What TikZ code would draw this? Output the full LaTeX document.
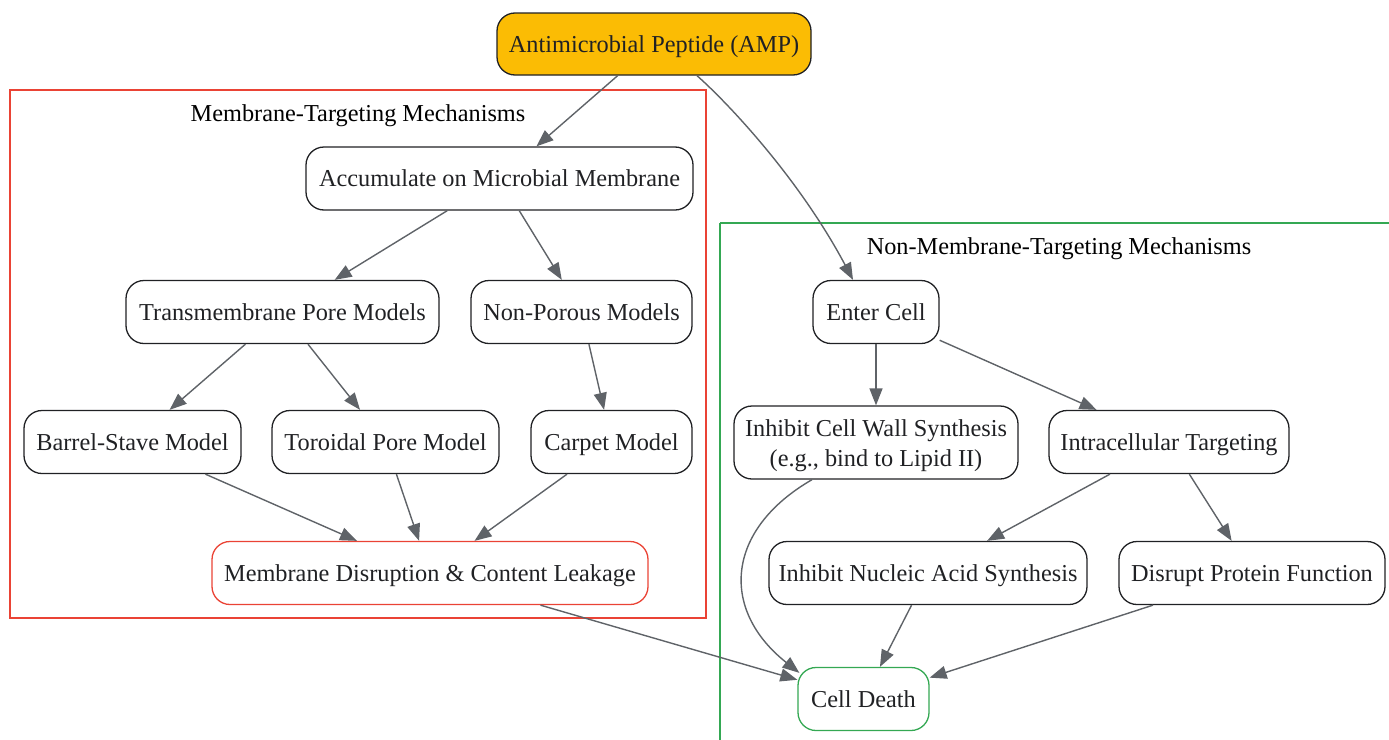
\documentclass[tikz,border=0pt]{standalone}
\usepackage{fontspec}
\setmainfont{Liberation Serif}
\usetikzlibrary{arrows.meta,calc}
\definecolor{amporange}{HTML}{FBBC04}
\definecolor{clred}{HTML}{EA4335}
\definecolor{clgreen}{HTML}{34A853}
\definecolor{edgegray}{HTML}{5F6368}
\definecolor{txt}{HTML}{202124}
\tikzset{
  box/.style={draw=txt, line width=1.3pt, rounded corners=18pt, text=txt, inner sep=0pt, minimum height=63pt, align=center,
    font=\fontsize{24.3}{29.5}\selectfont},
  oneline/.style={box, text height=21pt, text depth=5pt},
  cluster/.style={line width=1.3pt},
  clabel/.style={text=black, inner sep=0pt, text height=21pt, text depth=5pt, font=\fontsize{24.3}{29}\selectfont},
  conn/.style={draw=edgegray, line width=1.4pt, -{Triangle[length=17pt,width=13pt]}, color=edgegray},
}
\begin{document}
\begin{tikzpicture}[x=1pt,y=-1pt]
\useasboundingbox (0,0) rectangle (1389,739);
\clip (0,0) rectangle (1389,739);
% clusters
\draw[cluster, draw=clred] (10,90) rectangle (706,618);
\node[clabel] (lmem) at (358,113) {Membrane-Targeting Mechanisms};
\draw[cluster, draw=clgreen] (720,223) -- (1395,223) (720,223) -- (720,745);
\node[clabel] (lnon) at (1059,246) {Non-Membrane-Targeting Mechanisms};
% nodes
\node[oneline, fill=amporange, minimum width=314pt, minimum height=62pt] (amp) at (654,44) {Antimicrobial Peptide (AMP)};
\node[oneline, minimum width=387pt] (acc) at (499.5,178.5) {Accumulate on Microbial Membrane};
\node[oneline, minimum width=313pt] (tpm) at (282.5,312) {Transmembrane Pore Models};
\node[oneline, minimum width=221pt] (npm) at (581.5,312) {Non-Porous Models};
\node[oneline, minimum width=217pt] (bsm) at (132.5,442) {Barrel-Stave Model};
\node[oneline, minimum width=227pt] (tor) at (385.5,442) {Toroidal Pore Model};
\node[oneline, minimum width=161pt] (car) at (611.5,442) {Carpet Model};
\node[oneline, draw=clred, minimum width=436pt] (dis) at (430,573) {Membrane Disruption \& Content Leakage};
\node[oneline, minimum width=126pt] (ent) at (876,312) {Enter Cell};
\node[box, minimum width=284pt, minimum height=73pt] (icw) at (876,442.5) {\rule{0pt}{23pt}Inhibit Cell Wall Synthesis\\(e.g., bind to Lipid II)};
\node[oneline, minimum width=240pt] (itg) at (1169,442) {Intracellular Targeting};
\node[oneline, minimum width=318pt] (ina) at (928,573) {Inhibit Nucleic Acid Synthesis};
\node[oneline, minimum width=266pt] (dpf) at (1252,573) {Disrupt Protein Function};
\node[oneline, draw=clgreen, minimum width=131pt] (cd) at (863.5,699) {Cell Death};
% edges
\draw[conn] (amp) -- (acc);
\draw[conn] ($(amp.south)+(43,0)$) .. controls (730,105) and (800,180) .. ($(ent.north)+(-23,0)$);
\draw[conn] (acc) -- (tpm);
\draw[conn] (acc) -- (npm);
\draw[conn] (tpm) -- (bsm);
\draw[conn] (tpm) -- (tor);
\draw[conn] (npm) -- (car);
\draw[conn] (bsm) -- (dis);
\draw[conn] (tor) -- (dis);
\draw[conn] (car) -- (dis);
\draw[conn] (dis) -- (cd);
\draw[conn] (ent) -- (icw);
\draw[conn] (ent) -- (itg);
\draw[conn] ($(icw.south)+(-64,0)$) .. controls (725,530) and (720,610) .. ($(cd.north west)+(2,6)$);
\draw[conn] (itg) -- (ina);
\draw[conn] (itg) -- (dpf);
\draw[conn] (ina) -- (cd);
\draw[conn] (dpf) -- (cd);
\end{tikzpicture}
\end{document}
